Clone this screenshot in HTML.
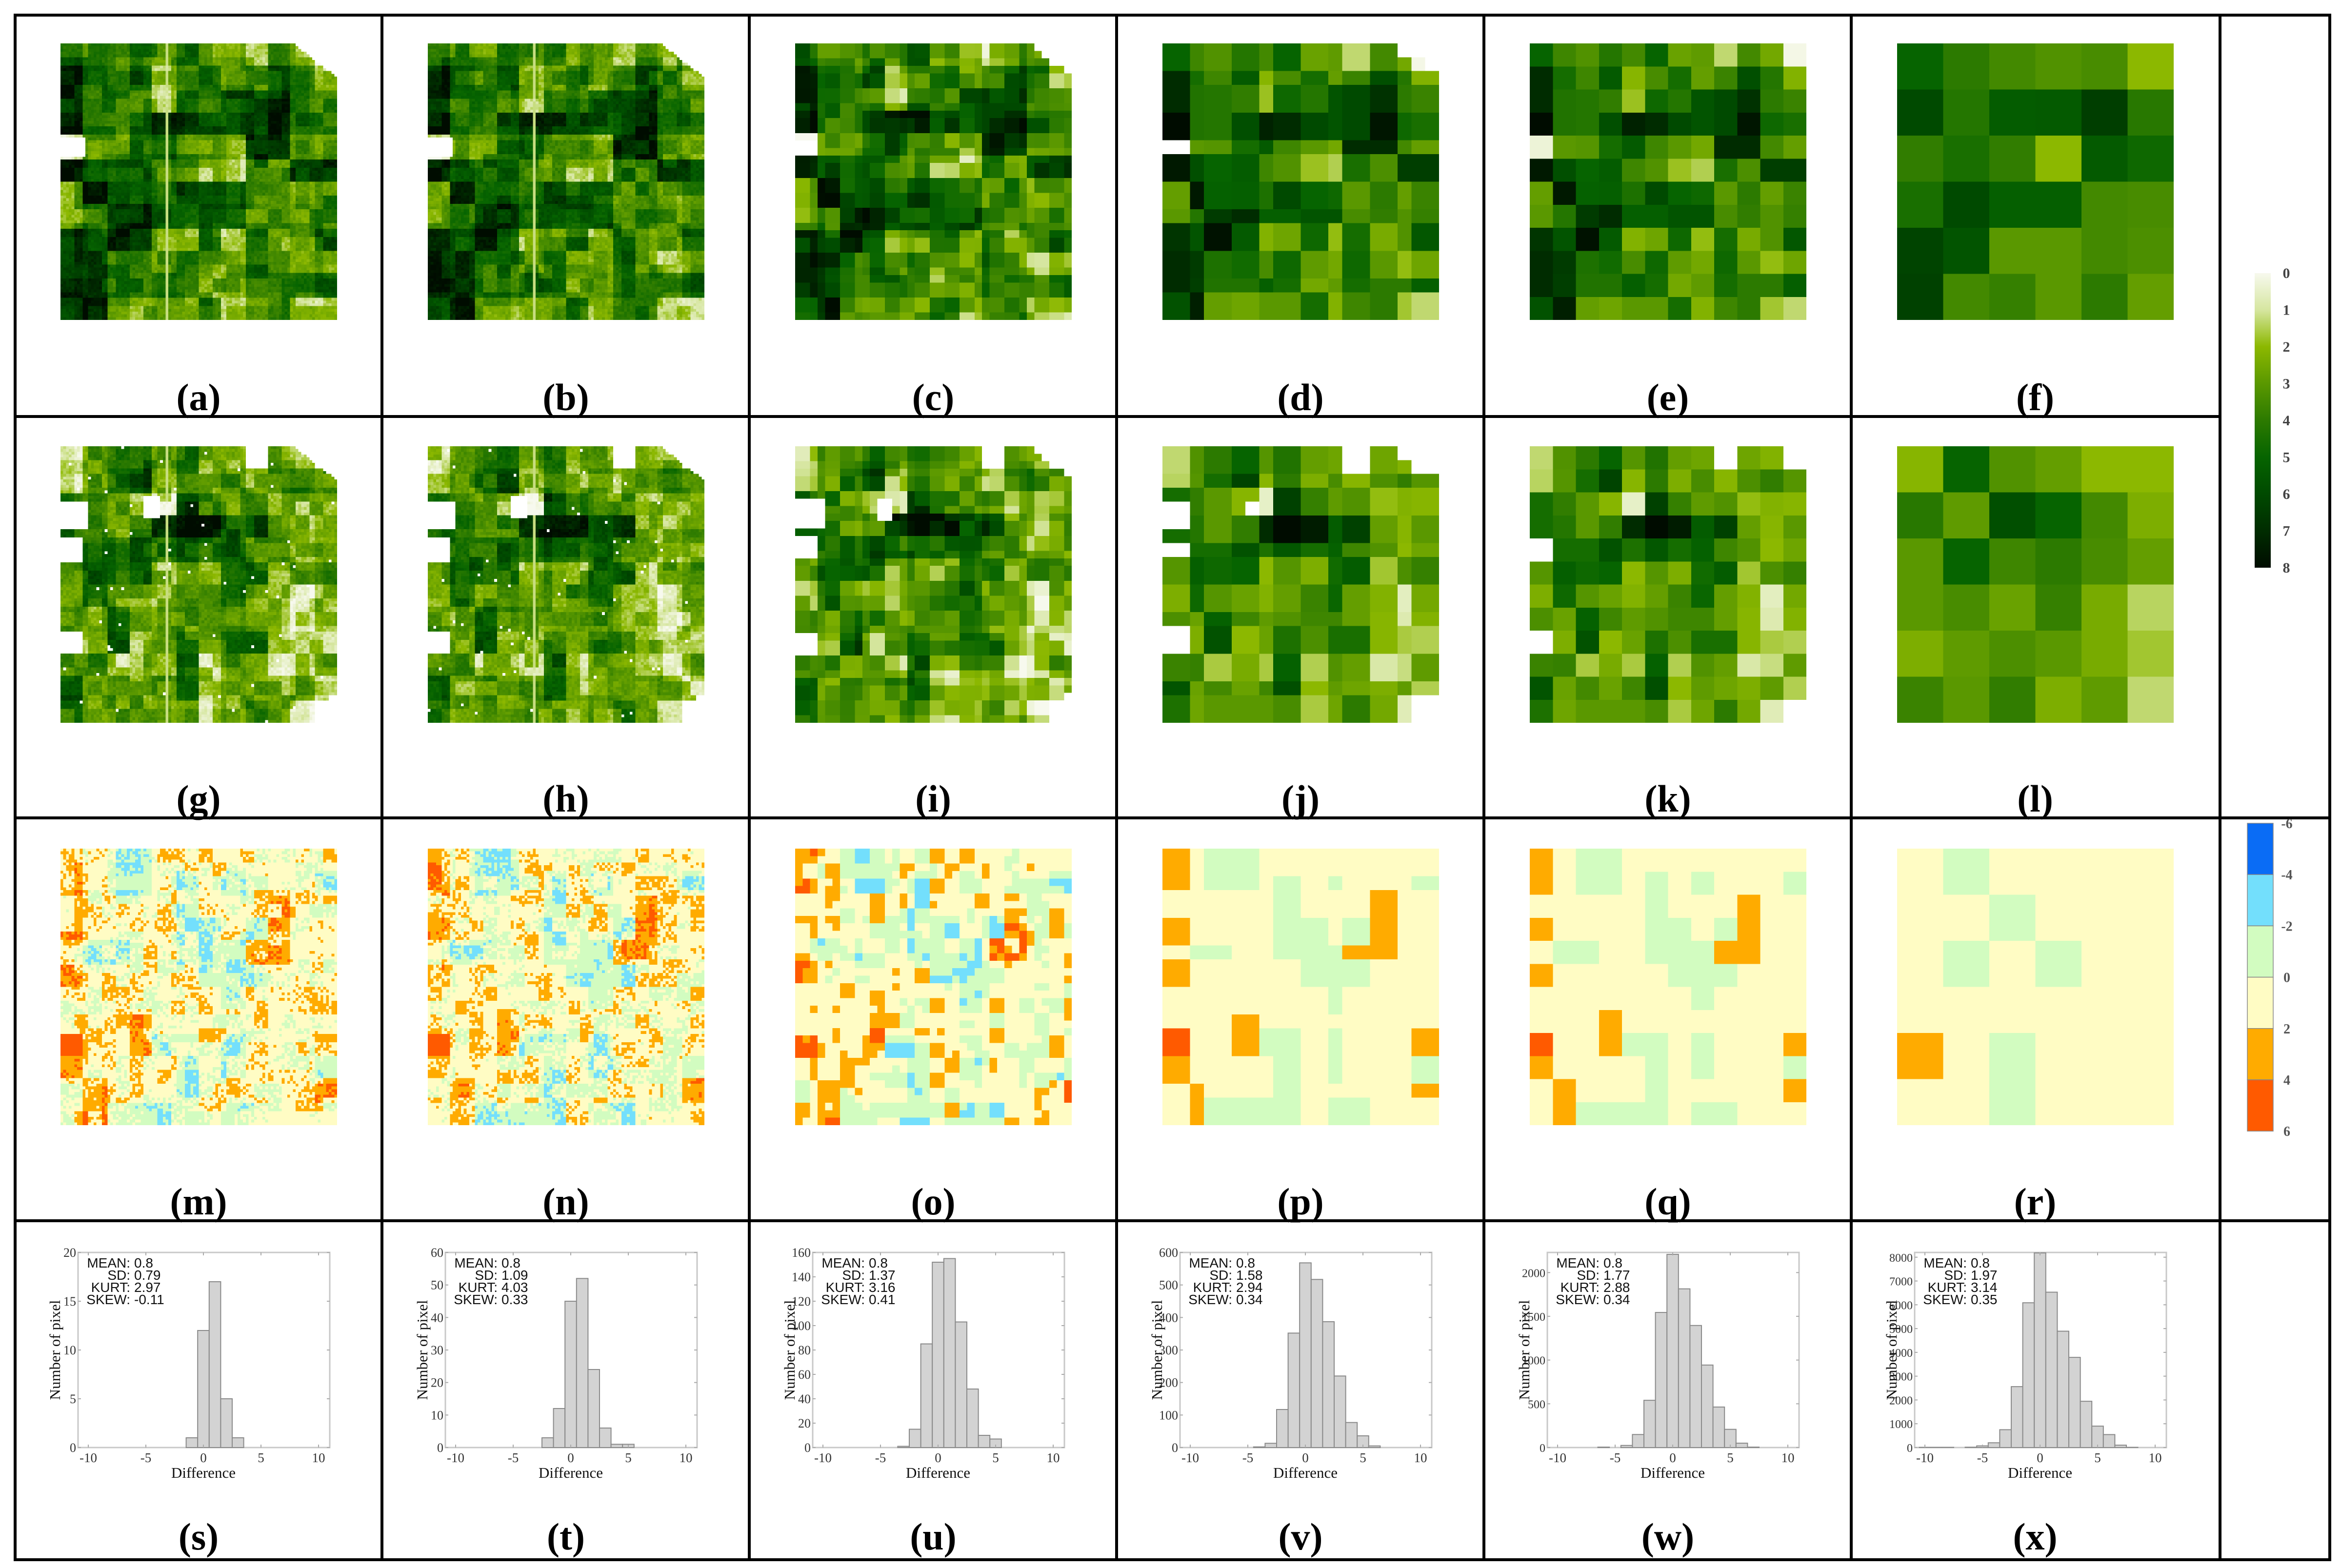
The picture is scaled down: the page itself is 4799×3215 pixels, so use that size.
<!DOCTYPE html>
<html><head><meta charset="utf-8">
<style>
html,body{margin:0;padding:0;background:#fff;}
#root{position:relative;width:4799px;height:3215px;overflow:hidden;background:#fff;}
canvas{position:absolute;width:567px;height:567px;image-rendering:pixelated;}
svg{position:absolute;left:0;top:0;}
</style></head>
<body>
<div id="root">
<svg id="svg" width="4799" height="3215"></svg>
</div>
<script>
// ---------- histogram data ----------
const hs_bins=[-1,0,1,2,3];
const hs_counts=[1,12,17,5,1];
const ht_bins=[-2,-1,0,1,2,3,4,5];
const ht_counts=[3,12,45,52,24,6,1,1];
const hu_bins=[-3,-2,-1,0,1,2,3,4,5];
const hu_counts=[1,15,85,152,155,103,48,10,7];
const hv_bins=[-4,-3,-2,-1,0,1,2,3,4,5,6];
const hv_counts=[2,13,117,352,568,517,387,220,77,36,5];
const hw_bins=[-6,-5,-4,-3,-2,-1,0,1,2,3,4,5,6,7];
const hw_counts=[5,0,24,149,540,1544,2208,1814,1395,943,463,208,50,5];
const hx_bins=[-10,-9,-8,-7,-6,-5,-4,-3,-2,-1,0,1,2,3,4,5,6,7,8];
const hx_counts=[10,10,10,0,15,70,200,750,2560,6085,8180,6530,4890,3790,1945,900,545,100,10];
const histYMax=[20,60,160,600,2230,8200];
const histYTicks=[[0,5,10,15,20],[0,10,20,30,40,50,60],[0,20,40,60,80,100,120,140,160],[0,100,200,300,400,500,600],[0,500,1000,1500,2000],[0,1000,2000,3000,4000,5000,6000,7000,8000]];
const histXTicks=[-10,-5,0,5,10];
const statMean=["0.8","0.8","0.8","0.8","0.8","0.8"];
const statSD=["0.79","1.09","1.37","1.58","1.77","1.97"];
const statKurt=["2.97","4.03","3.16","2.94","2.88","3.14"];
const statSkew=["-0.11","0.33","0.41","0.34","0.34","0.35"];
const panelLetters=["a","b","c","d","e","f","g","h","i","j","k","l","m","n","o","p","q","r","s","t","u","v","w","x"];
// ---------- map grids ----------
const gridE=[
[5,3.6,3.2,4.2,3.5,5,2.7,2.9,1.3,3.5,2.5,0.1],
[7,4.6,3.6,5.4,2.1,3.4,4.6,2.8,3.7,5.8,4.2,2.2],
[7,4.3,4.2,3.9,1.8,4.8,4.2,5.6,6,6.8,4,3.7],
[8,4.3,4.2,5.8,7.3,7,6,5.6,6,7.7,4.8,4.5],
[0.3,3,3.1,4.6,5.4,3.6,3,2.5,7,7,3.5,2.8],
[7.6,5.8,5,5.3,3.6,3.2,1.8,1.5,4.5,3.3,6.4,6.4],
[2.8,7.6,5.1,5.2,4.4,6,5,4.8,3,4,2.8,3.7],
[3,4.2,6.5,7,5.2,5.2,5.6,5.6,3.4,3.9,3.2,3.8],
[6.7,5.6,7.8,5.4,2.2,2.6,4.8,1.9,4.6,2.4,3.2,5.5],
[7,6.5,4.4,4.7,3.4,4.8,2.9,2.5,4.8,3,1.9,2.6],
[7,6.4,4.3,4.3,5.2,4.6,2.5,2.9,4.6,4,4,5.2],
[5.7,7.4,2.8,2.6,3,3,4.6,2.2,3.6,4,1.7,1.3]];
const gridF=[
[5,4,3.5,3.2,3.4,2],
[6,4.2,5.3,5.4,6.4,4.1],
[3.9,4.5,3.9,2,5.4,4.8],
[4.5,6,5.2,5.2,3.5,3.4],
[6.2,5.6,3,3,3.5,3.3],
[6.3,3.5,3.8,3,4,2.8]];
const N=null;
const gridK=[
[1.3,3.2,4,5,3.1,4.3,2.8,2.6,N,2.6,2.2,N],
[1.4,3.1,4.6,6.2,2.1,4,2.3,3.4,2.1,3.3,3.9,3.1],
[4.6,3.9,3,2.1,0.5,6.3,3.8,2.9,3.2,1.9,2.2,2.1],
[4.6,4.2,3,3.9,7,8,7.5,5.3,6.3,2.8,2.1,3],
[N,4.6,4.6,5.7,4.4,5.5,4.6,5.1,3.6,3.2,2,2.6],
[3.1,5.2,4.8,5,2,3.1,2.3,4.7,5.3,1.7,3.3,3.8],
[2.3,4.8,3.1,2.7,2.2,2.8,3.7,4.9,2.8,2.2,0.6,2.5],
[3.3,2.7,5.1,3.6,2.9,3.2,3.6,3.6,2.8,2.1,0.8,2.2],
[N,2.3,5.7,2,2.7,4.4,3.3,4.5,4.5,2.1,1.6,1.5],
[3.7,3.8,1.6,2.4,1.6,5.1,1.5,3.2,2.8,0.9,1.2,2.9],
[5.6,2.7,3.5,2.7,3.6,5.8,2,2.9,2.6,2.3,2.9,1.5],
[4.4,2.6,3,3,3,3.4,1.6,2.6,4,2.5,0.7,N]];
const gridL=[
[2.1,5,3.2,2.8,2,2],
[4.1,2.9,5.8,5,3.5,2.3],
[3,5,3.6,4,3.4,2.8],
[3,3.4,2.7,3.8,2.4,1.4],
[2.3,2.9,3.3,3,2.4,1.7],
[3.7,3,3.9,2.3,2.9,1.3]];
const gridQ=[
[3,1,-1,-1,1,1,1,1,1,1,1,1],
[3,1,-1,-1,1,-1,1,-1,1,1,1,-1],
[1,1,1,1,1,-1,1,1,1,3,1,1],
[3,1,1,1,1,-1,-1,1,-1,3,1,1],
[1,-1,-1,1,1,-1,-1,-1,3,3,1,1],
[3,1,1,1,1,1,-1,-1,-1,1,1,1],
[1,1,1,1,1,1,1,-1,1,1,1,1],
[1,1,1,3,1,1,1,1,1,1,1,1],
[5,1,1,3,-1,-1,1,-1,1,1,1,3],
[3,1,1,1,1,-1,1,-1,1,1,1,-1],
[1,3,1,1,1,-1,1,1,1,1,1,3],
[1,3,-1,-1,-1,-1,1,-1,-1,1,1,1]];
const gridR=[
[1,-1,1,1,1,1],
[1,1,-1,1,1,1],
[1,-1,1,-1,1,1],
[1,1,1,1,1,1],
[3,1,-1,1,1,1],
[1,1,-1,1,1,1]];
const greenTicks=[0,1,2,3,4,5,6,7,8];
const diffTicks=[-6,-4,-2,0,2,4,6];

// ---------- layout ----------
const NS="http://www.w3.org/2000/svg";
const svg=document.getElementById('svg');
const root=document.getElementById('root');
const colX=[31,783,1536,2289,3042,3795,4551,4776];
const mapLeft=124, mapStep=753;
const mapTops=[89,915,1740];
const labelY=[841,1664,2490,3177];

function el(tag,attrs,parent){const e=document.createElementNS(NS,tag);for(const k in attrs)e.setAttribute(k,attrs[k]);(parent||svg).appendChild(e);return e;}

// ---------- colors ----------
const gStops=[[247,249,238],[214,230,160],[140,184,0],[90,152,0],[44,122,0],[6,100,0],[0,74,0],[0,44,0],[0,12,0]];
function greenColor(v){v=Math.max(0,Math.min(8,v));const i=Math.min(7,Math.floor(v));const t=v-i;const a=gStops[i],b=gStops[i+1];return [a[0]+(b[0]-a[0])*t,a[1]+(b[1]-a[1])*t,a[2]+(b[2]-a[2])*t];}
const dCols=[[10,108,245],[115,223,252],[210,252,192],[255,252,196],[255,171,0],[255,90,0]];
function diffColor(v){let i=Math.floor((v+6)/2);i=Math.max(0,Math.min(5,i));return dCols[i];}

function hash(a,b,s){let h=(a*374761393+b*668265263+s*2147483647)|0;h=(h^(h>>>13))*1274126177|0;h=h^(h>>>16);return ((h>>>0)%10000)/10000;}
function sampleGrid(g,u,v){const n=g.length;const r=Math.min(n-1,Math.floor(v*n)),c=Math.min(n-1,Math.floor(u*n));return g[r][c];}

function makeCanvas(idx,row,res,fn){
  const c=document.createElement('canvas');
  c.width=res;c.height=res;
  c.style.left=(mapLeft+mapStep*idx)+'px';c.style.top=mapTops[row]+'px';
  
  
  const ctx=c.getContext('2d');const im=ctx.createImageData(res,res);
  for(let i=0;i<res;i++)for(let j=0;j<res;j++){
    const col=fn((j+0.5)/res,(i+0.5)/res,i,j);
    const p=(i*res+j)*4;
    if(!col){im.data[p]=255;im.data[p+1]=255;im.data[p+2]=255;im.data[p+3]=255;continue;}
    im.data[p]=col[0];im.data[p+1]=col[1];im.data[p+2]=col[2];im.data[p+3]=255;
  }
  ctx.putImageData(im,0,0);root.appendChild(c);
}
function maskRow1(u,v){ if(u>0.84+v*1.3&&v<0.13) return false; if(u<0.09&&v>0.34&&v<0.41) return false; return true;}
function maskRow2(u,v){ if(u>0.84+v*1.3&&v<0.13) return false; if(u<0.1&&v>0.2&&v<0.3) return false; if(u>0.3&&u<0.36&&v>0.18&&v<0.26)return false; if(u>0.97&&v>0.9)return false; return true;}
const roadsV=[0.385,0.52];
function fineValue(g,u,v,i,j,res,seed){
  let b=sampleGrid(g,u,v); if(b===null) return null;
  if(res>=24){const fr=Math.floor(v*res/(res>=60?5:2)),fc=Math.floor(u*res/(res>=60?5:2));b+= (hash(fr,fc,seed)-0.5)*2.2;}
  if(res>=60){b+=(hash(i,j,seed+7)-0.5)*0.7;
    for(const r of roadsV) if(Math.abs(u-r)<0.005) b=Math.min(b,1.2);}
  return b;
}
[[100,1],[100,2],[37,3],[20,4]].forEach((cfg,k)=>{
  makeCanvas(k,0,cfg[0],(u,v,i,j)=>{ if(!maskRow1(u,v))return null; const val=fineValue(gridE,u,v,i,j,cfg[0],cfg[1]); return greenColor(val);});
});
makeCanvas(4,0,12,(u,v,i,j)=>greenColor(gridE[i][j]));
makeCanvas(5,0,6,(u,v,i,j)=>greenColor(gridF[i][j]));
[[100,11],[100,12],[37,13],[20,14]].forEach((cfg,k)=>{
  makeCanvas(k,1,cfg[0],(u,v,i,j)=>{ if(!maskRow2(u,v))return null; const val=fineValue(gridK,u,v,i,j,cfg[0],cfg[1]); if(val===null)return null; if(cfg[0]>=60&&hash(i,j,cfg[1]+3)>0.993)return null; return greenColor(val);});
});
makeCanvas(4,1,12,(u,v,i,j)=>gridK[i][j]===null?null:greenColor(gridK[i][j]));
makeCanvas(5,1,6,(u,v,i,j)=>greenColor(gridL[i][j]));
[[100,21],[100,22],[37,23],[20,24]].forEach((cfg,k)=>{
  makeCanvas(k,2,cfg[0],(u,v,i,j)=>{
    let b=sampleGrid(gridQ,u,v);
    const res=cfg[0];
    if(res>=24){const fr=Math.floor(v*res/(res>=60?5:2)),fc=Math.floor(u*res/(res>=60?5:2));b+=(hash(fr,fc,cfg[1])-0.5)*3.2;}
    if(res>=60){b+=(hash(i,j,cfg[1]+5)-0.5)*1.6;}
    else {b+=(hash(i,j,cfg[1]+5)-0.5)*0.8;}
    return diffColor(b);
  });
});
makeCanvas(4,2,12,(u,v,i,j)=>diffColor(gridQ[i][j]));
makeCanvas(5,2,6,(u,v,i,j)=>diffColor(gridR[i][j]));

// ---------- grid lines ----------
const gl=el('g',{});


function line(x1,y1,x2,y2){el('line',{x1:x1,y1:y1,x2:x2,y2:y2,stroke:'#000','stroke-width':6},gl);}
line(28,31,4779,31);line(28,3198,4779,3198);
line(28,854,4551,854);line(28,1677,4779,1677);line(28,2503,4779,2503);
colX.forEach(x=>line(x,28,x,3201));

// ---------- panel labels ----------
for(let r=0;r<4;r++)for(let c=0;c<6;c++){
  const t=el('text',{x:407+753*c,y:labelY[r],'text-anchor':'middle','font-family':'Liberation Serif, serif','font-weight':'bold','font-size':78,fill:'#000'});
  t.textContent='('+panelLetters[r*6+c]+')';
  
  
}

// ---------- colorbars ----------
const defs=el('defs',{});
const lg=el('linearGradient',{id:'gcb',x1:0,y1:0,x2:0,y2:1},defs);
gStops.forEach((s,i)=>el('stop',{offset:(i/8),'stop-color':'rgb('+s.join(',')+')'},lg));
const cb1=el('rect',{x:4622,y:560,width:33,height:604,fill:'url(#gcb)'});


greenTicks.forEach((v,i)=>{const t=el('text',{x:4687,y:560+i*75.5+10,'text-anchor':'middle','font-family':'Liberation Serif, serif','font-size':30,'font-weight':'bold',fill:'#444'});t.textContent=v;
  
  });
for(let i=0;i<6;i++){const r=el('rect',{x:4607,y:1688+i*105.2,width:53,height:105.2,fill:'rgb('+dCols[i].join(',')+')',stroke:'#888','stroke-width':1.5});
  
  }
diffTicks.forEach((v,i)=>{const t=el('text',{x:4688,y:1688+i*105.2+10,'text-anchor':'middle','font-family':'Liberation Serif, serif','font-size':28,'font-weight':'bold',fill:'#555'});t.textContent=v;
  
  });

// ---------- histograms ----------
const allBins=[hs_bins,ht_bins,hu_bins,hv_bins,hw_bins,hx_bins];
const allCounts=[hs_counts,ht_counts,hu_counts,hv_counts,hw_counts,hx_counts];
for(let p=0;p<6;p++){
  const ox=31+753*p, oy=2503;
  const L=ox+129,R=ox+645,T=oy+65,B=oy+465;
  const xs=v=>ox+150+(v+10)*23.6;
  const ys=v=>B-(v/histYMax[p])*(B-T);
  const g=el('g',{});
  
  
  const box=el('rect',{x:L,y:T,width:R-L,height:B-T,fill:'#fff',stroke:'#c8c8c8','stroke-width':3},g);
  
  
  allBins[p].forEach((b,i)=>{const c=allCounts[p][i];if(c<=0)return;
    const r=el('rect',{x:xs(b-0.5),y:ys(c),width:xs(b+0.5)-xs(b-0.5),height:B-ys(c),fill:'#d3d3d3',stroke:'#8a8a8a','stroke-width':2},g);
    
    });
  histXTicks.forEach(v=>{el('line',{x1:xs(v),y1:B,x2:xs(v),y2:B-6,stroke:'#aaa','stroke-width':2},g);el('line',{x1:xs(v),y1:T,x2:xs(v),y2:T+6,stroke:'#aaa','stroke-width':2},g);
    const t=el('text',{x:xs(v),y:B+30,'text-anchor':'middle','font-family':'Liberation Serif, serif','font-size':27,fill:'#333'},g);t.textContent=v;
    
    });
  histYTicks[p].forEach(v=>{el('line',{x1:L,y1:ys(v),x2:L+6,y2:ys(v),stroke:'#aaa','stroke-width':2},g);el('line',{x1:R,y1:ys(v),x2:R-6,y2:ys(v),stroke:'#aaa','stroke-width':2},g);
    const t=el('text',{x:L-4,y:ys(v)+9,'text-anchor':'end','font-family':'Liberation Serif, serif','font-size':p>=4?24:26,fill:'#333'},g);t.textContent=v;
    
    });
  const xl=el('text',{x:xs(0),y:B+62,'text-anchor':'middle','font-family':'Liberation Serif, serif','font-size':31,fill:'#111'},g);xl.textContent='Difference';
  
  
  const yl=el('text',{x:0,y:0,'text-anchor':'middle','font-family':'Liberation Serif, serif','font-size':31,fill:'#111',transform:'translate('+(ox+92)+','+(oy+265)+') rotate(-90)'},g);yl.textContent='Number of pixel';
  
  
  const labs=['MEAN','SD','KURT','SKEW'],vals=[statMean[p],statSD[p],statKurt[p],statSkew[p]];
  labs.forEach((l,i)=>{const t=el('text',{x:ox+236,y:oy+96+i*25,'text-anchor':'end','font-family':'Liberation Sans, sans-serif','font-size':28,fill:'#111'},g);t.textContent=l+':';
    
    
    const tv=el('text',{x:ox+244,y:oy+96+i*25,'font-family':'Liberation Sans, sans-serif','font-size':28,fill:'#111'},g);tv.textContent=vals[i];
    
    });
}
</script>
</body></html>
